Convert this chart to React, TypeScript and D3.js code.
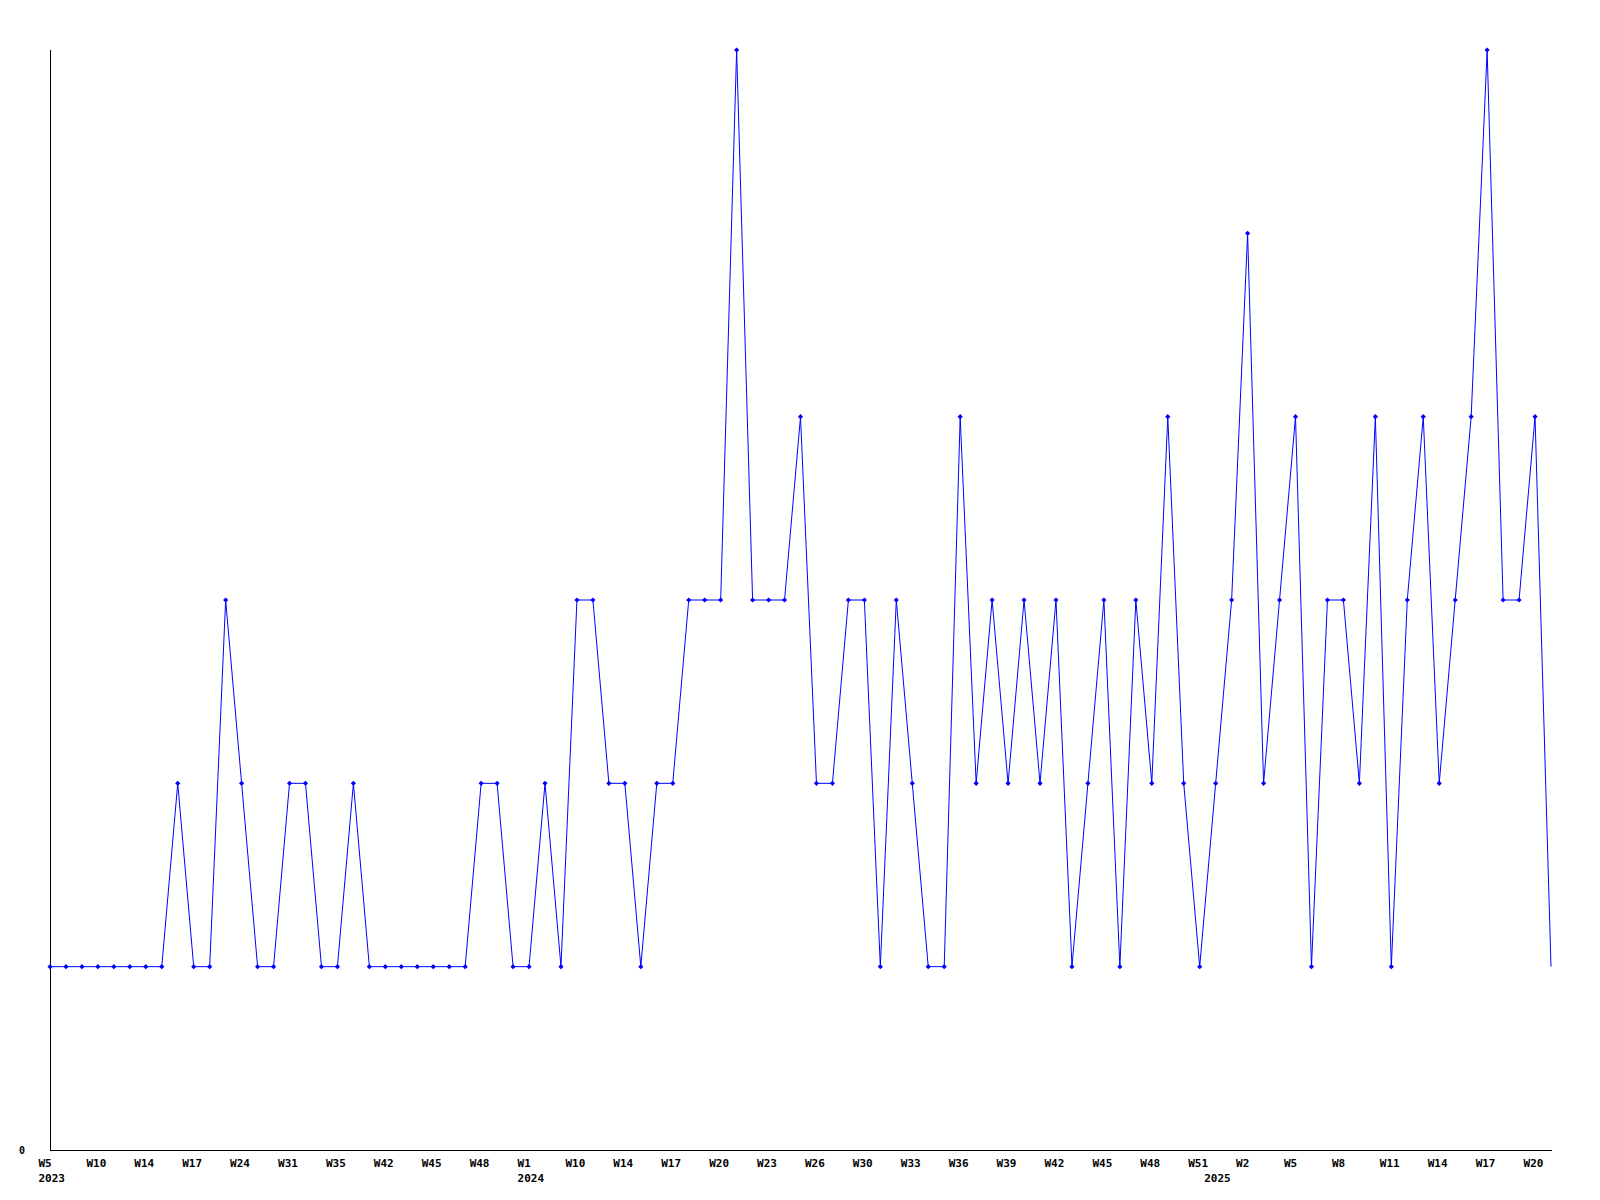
import React from "react";
import * as d3 from "d3";

// Weekly values (one per categorical point)
const values: number[] = [
  1, 1, 1, 1, 1, 1, 1, 1, 2, 1,
  1, 3, 2, 1, 1, 2, 2, 1, 1, 2,
  1, 1, 1, 1, 1, 1, 1, 2, 2, 1,
  1, 2, 1, 3, 3, 2, 2, 1, 2, 2,
  3, 3, 3, 6, 3, 3, 3, 4, 2, 2,
  3, 3, 1, 3, 2, 1, 1, 4, 2, 3,
  2, 3, 2, 3, 1, 2, 3, 1, 3, 2,
  4, 2, 1, 2, 3, 5, 2, 3, 4, 1,
  3, 3, 2, 4, 1, 3, 4, 2, 3, 4,
  6, 3, 3, 4, 1,
];

// Week labels shown every 3rd point
const weekLabels: string[] = [
  "W5", "W10", "W14", "W17", "W24", "W31", "W35", "W42", "W45", "W48",
  "W1", "W10", "W14", "W17", "W20", "W23", "W26", "W30", "W33", "W36",
  "W39", "W42", "W45", "W48", "W51", "W2", "W5", "W8", "W11", "W14",
  "W17", "W20",
];
const labelStep = 3;

// Year labels: point index where each year starts
const yearLabels: string[] = ["2023", "2024", "2025"];
const yearStartIndex: number[] = [0, 30, 73];

const yTicks: number[] = [0];

const W = 1600;
const H = 1200;
const left = 50;
const right = 1551;
const top = 50;
const bottom = 1150;

const FONT = "'DejaVu Sans Mono', monospace";

export default function App() {
  const x = d3.scaleLinear().domain([0, values.length - 1]).range([left, right]);
  const y = d3.scaleLinear().domain([0, 6]).range([bottom, top]);

  const line = d3
    .line<number>()
    .x((_, i) => x(i))
    .y((d) => y(d));

  const pathD = line(values) || "";

  return (
    <svg
      width={W}
      height={H}
      style={{ position: "absolute", left: 0, top: 0, background: "#fff" }}
    >
      <rect x={0} y={0} width={W} height={H} fill="#fff" />
      {/* axes */}
      <g shapeRendering="crispEdges" stroke="#000" strokeWidth={1}>
        <line x1={left + 0.5} x2={left + 0.5} y1={top} y2={bottom + 0.5} />
        <line x1={left} x2={right + 0.5} y1={bottom + 0.5} y2={bottom + 0.5} />
      </g>
      {/* y tick label */}
      {yTicks.map((t) => (
        <text
          key={"y" + t}
          x={19}
          y={y(t) + 3.8}
          fontFamily={FONT}
          fontWeight="bold"
          fontSize={10}
          fill="#000"
        >
          {t}
        </text>
      ))}
      {/* week labels */}
      {weekLabels.map((lab, k) => (
        <text
          key={"w" + k}
          x={x(k * labelStep) - 11.5}
          y={1166.5}
          fontFamily={FONT}
          fontWeight="bold"
          fontSize={11}
          fill="#000"
        >
          {lab}
        </text>
      ))}
      {/* year labels */}
      {yearLabels.map((lab, k) => (
        <text
          key={"yr" + k}
          x={x(yearStartIndex[k]) - 11.5}
          y={1181.5}
          fontFamily={FONT}
          fontWeight="bold"
          fontSize={11}
          fill="#000"
        >
          {lab}
        </text>
      ))}
      {/* series line */}
      <path d={pathD} fill="none" stroke="#0000ff" strokeWidth={1} />
      {/* markers */}
      <g fill="#0000ff">
        {values.slice(0, values.length - 1).map((v, i) => {
          const cx = x(i);
          const cy = y(v);
          return (
            <path
              key={"m" + i}
              d={`M${cx - 2.6},${cy}L${cx},${cy - 2.6}L${cx + 2.6},${cy}L${cx},${cy + 2.6}Z`}
            />
          );
        })}
      </g>
    </svg>
  );
}
